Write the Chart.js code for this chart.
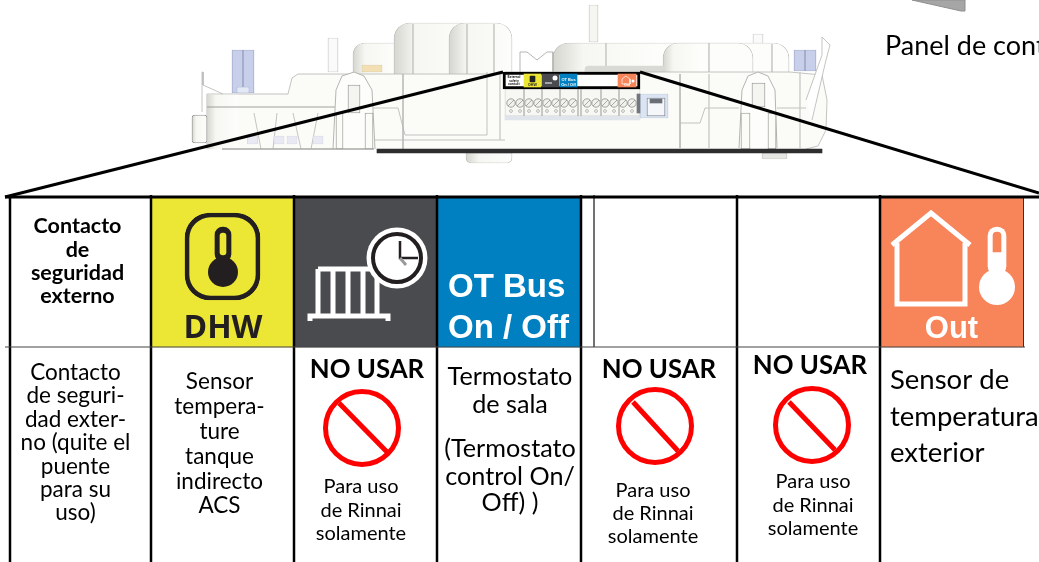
<!DOCTYPE html>
<html lang="es">
<head>
<meta charset="utf-8">
<title>Panel de control</title>
<style>
  html, body { margin: 0; padding: 0; background: #fff; overflow: hidden; }
  #wrap { width: 1039px; height: 562px; }
  canvas { display: block; }
</style>
<script src="https://cdn.jsdelivr.net/npm/chart.js@4/dist/chart.umd.min.js"></script>
</head>
<body>
<div id="wrap"><canvas id="chart" width="1039" height="562"></canvas></div>
<script>
// ── Table values ─────────────────────────────────────────────────
const columnRules = [10, 151, 294, 437, 581, 737, 880];
const innerRule = [594];
const ruleTop = 195;
const headerTop = 197;
const headerBottom = 347;
const tableBottom = 562;

const cellCentres = [222.5, 365.5, 509, 952];
const cellSpan = [198, 347];

const contactHeader = ['Contacto', 'de', 'seguridad', 'externo'];
const contactHeaderY = [233, 257, 280, 303];
const contactBody = ['Contacto', 'de seguri-', 'dad exter-', 'no (quite el', 'puente', 'para su', 'uso)'];
const contactBodyY = [380, 403, 427, 450, 474, 497, 520];
const sensorBody = ['Sensor', 'tempera-', 'ture', 'tanque', 'indirecto', 'ACS'];
const sensorBodyY = [389, 414, 439, 464, 489, 513];
const thermostatBody = ['Termostato', 'de sala', '(Termostato', 'control On/', 'Off) )'];
const thermostatBodyY = [385, 413, 457, 485, 511];
const outsideBody = ['Sensor de', 'temperatura', 'exterior'];
const outsideBodyY = [389, 426, 462];
const panelCaption = 'Panel de cont';

const doNotUse = 'NO USAR';
const rinnaiNote = ['Para uso', 'de Rinnai', 'solamente'];
const noUseTitleX = [367, 659, 810];
const noUseTitleY = [378, 378, 374];
const noUseCircleX = [362, 655, 812];
const noUseCircleY = [428, 426, 425];
const noUseNoteX = [361, 653, 813];
const noUseNoteY = [[493, 517, 540], [497, 520, 543], [488, 512, 535]];
const slashFrom = [[339, 403], [633, 402], [789, 402]];
const slashTo = [[387, 452], [678, 451], [835, 450]];

// ── Icons ────────────────────────────────────────────────────────
const radiatorBars = [318, 333, 348, 363, 377];
const radiatorTop = [[318, 269], [377, 269]];
const radiatorBase = [[310, 321], [310, 316], [388, 316], [388, 321]];
const clockCentre = [397, 258];
const clockHands = [[400, 241], [400, 258], [418, 258]];
const clockTail = [[400, 258], [406, 265]];
const houseOutline = [[892, 245], [931, 213], [970, 245]];
const houseWalls = [[897, 243], [897, 304], [965, 304], [965, 243]];

// ── Burner board drawing ─────────────────────────────────────────
const wedgeLeft = [[5, 197], [503, 72]];
const wedgeRight = [[640, 72], [1039, 193]];
const bodyOutline = [[207, 149], [207, 94], [288, 94], [292, 78], [298, 74], [336, 74], [370, 74], [505, 74], [505, 72], [554, 72], [790, 72], [822, 75], [827, 100], [826, 130], [818, 146], [806, 149]];
const bodyMidLine = [[207, 107], [335, 107]];
const bodyTopLine = [[375, 140], [505, 140]];
const leftSpike = [[202, 112], [202, 72], [203, 72], [203, 85], [223, 94]];
const rightSpike = [[806, 100], [822, 55], [822, 37], [830, 45], [826, 60], [812, 120]];
const leftLegs = [[[254, 113], [261, 149]], [[277, 113], [273, 149]], [[293, 113], [301, 149]], [[318, 113], [311, 149]]];
const leftWindow = [[373, 108], [398, 108], [405, 135], [487, 135], [487, 72]];
const rightWindow = [[680, 74], [680, 148]];
const rightLedge = [[680, 123], [700, 123], [705, 108], [739, 108]];
const rightEnd = [[777, 108], [806, 108]];
const blockRule = [[403, 74], [403, 149]];
const clipWhite = [[520, 72], [520, 52], [527, 52], [537, 60], [547, 52], [553, 52], [553, 72]];
const clipArchLeft = [[333, 149], [336, 90], [342, 76], [354, 72], [364, 76], [372, 90], [375, 149]];
const clipArchRight = [[739, 148], [742, 90], [748, 76], [758, 72], [768, 76], [775, 90], [777, 148]];
const screwX = [511, 520, 529, 538, 547, 556, 564, 573, 587, 596, 605, 614, 623, 632];
const screwRule = [524, 542, 560, 578, 581, 601, 619];
const padsX = [252.5, 279, 292, 318];
const bumpRules = [[413, 24, 74], [467, 24, 74], [494, 24, 74], [606, 43, 66], [709, 43, 72], [772, 44, 72]];
const frontRules = [[709, 74, 148], [500, 74, 140], [800, 72, 148]];

// label strip on the board
const footSpans = [[466, 512], [762, 787]];

// ── Chart ────────────────────────────────────────────────────────
const xy = pts => pts.map(p => ({ x: p[0], y: p[1] }));
const ctx = document.getElementById('chart').getContext('2d');

function path(pts, color, width, fillColor) {
  return {
    type: 'line',
    data: xy(pts),
    borderColor: color,
    borderWidth: width,
    pointRadius: 0,
    tension: 0,
    borderCapStyle: 'butt',
    fill: fillColor ? 'shape' : false,
    backgroundColor: fillColor || 'transparent',
  };
}

function block(x0, x1, y0, y1, fillColor, lineColor, lineWidth, radius) {
  return {
    type: 'bar',
    data: [{ x: (x0 + x1) / 2, y: [y0, y1] }],
    barThickness: x1 - x0,
    grouped: false,
    backgroundColor: fillColor,
    borderColor: lineColor || 'transparent',
    borderWidth: lineWidth || 0,
    borderRadius: radius || 0,
    borderSkipped: false,
  };
}

function dot(x, y, r, fillColor, lineColor, lineWidth) {
  return {
    type: 'scatter',
    data: [{ x, y }],
    pointStyle: 'circle',
    pointRadius: r,
    pointBackgroundColor: fillColor,
    pointBorderColor: lineColor || 'transparent',
    pointBorderWidth: lineWidth || 0,
    showLine: false,
  };
}

function shade(x0, x1) {
  const g = ctx.createLinearGradient(x0, 0, x1, 0);
  g.addColorStop(0, '#d6d6d0');
  g.addColorStop(0.28, '#f6f6f2');
  g.addColorStop(1, '#fdfdfb');
  return g;
}

const EDGE = '#b5b5b2';
const layers = [];

// bumps, posts and tanks behind the body
layers.push(block(589, 598, 5, 42, '#f5f5f2', EDGE, 0.7, 1));
layers.push(block(328, 338, 38, 72, '#fafafa', EDGE, 0.7));
layers.push(block(753, 763, 34, 44, '#fafafa', EDGE, 0.7));
layers.push(block(353, 395, 43, 76, shade(353, 395), EDGE, 0.7, { topLeft: 12, topRight: 0 }));
layers.push(block(394, 470, 23, 76, shade(394, 470), EDGE, 0.7, { topLeft: 16, topRight: 10 }));
layers.push(block(449, 512, 23, 76, shade(449, 512), EDGE, 0.7, { topLeft: 16, topRight: 16 }));
layers.push(block(553, 789, 43, 74, shade(553, 660), EDGE, 0.7, { topLeft: 18, topRight: 16 }));
layers.push(block(663, 753, 43, 74, shade(663, 700), EDGE, 0.7, { topLeft: 18, topRight: 16 }));
bumpRules.forEach(r => layers.push(path([[r[0], r[1]], [r[0], r[2]]], '#c4c4c1', 0.7)));
layers.push(block(362, 382, 65, 72, '#f2dfb4', '#c9b98f', 0.5));
layers.push(block(232, 254, 50, 93, '#c8cfea', '#8f97b8', 0.7));
layers.push(path([[243, 50], [243, 87]], '#9aa2c2', 0.7));
layers.push(block(237, 249, 87, 93, '#e4e9f6', '#8f97b8', 0.5));
layers.push(block(794, 816, 50, 71, '#c8cfea', '#8f97b8', 0.7));
layers.push(path([[805, 50], [805, 71]], '#9aa2c2', 0.7));
layers.push(path(clipWhite, EDGE, 1, '#ffffff'));
layers.push(block(585, 664, 66, 74, '#d9d9d5', null, 0, { topLeft: 8 }));

// body of the board
layers.push(path(bodyOutline, EDGE, 0.8, '#fbfbf8'));
layers.push(block(207, 238, 95, 149, shade(207, 238)));
layers.push(path(bodyMidLine, '#8a8a88', 0.8));
layers.push(path(bodyTopLine, EDGE, 0.8));
layers.push(path(leftSpike, EDGE, 0.8));
layers.push(path(rightSpike, EDGE, 0.8, '#ffffff'));
layers.push(path(leftWindow, EDGE, 0.8));
layers.push(path(rightWindow, EDGE, 0.8));
layers.push(path(rightLedge, EDGE, 0.8));
layers.push(path(rightEnd, EDGE, 0.8));
layers.push(path(blockRule, EDGE, 0.7));
frontRules.forEach(r => layers.push(path([[r[0], r[1]], [r[0], r[2]]], '#cdcdca', 0.7)));
leftLegs.forEach(leg => layers.push(path(leg, EDGE, 0.8)));
padsX.forEach(x => layers.push(block(x - 5, x + 5, 136, 144, '#e9e9f4', '#c8c8d4', 0.5)));
layers.push(block(192, 207, 115, 143, shade(192, 207), '#8a8a88', 0.8, 3));
layers.push(path(clipArchLeft, EDGE, 1, '#fdfdfb'));
layers.push(path(clipArchRight, EDGE, 1, '#fdfdfb'));
layers.push(block(348, 360, 85, 113, '#f4f4f1', '#8a8a88', 0.8));
layers.push(block(752, 765, 83, 107, '#f4f4f1', '#8a8a88', 0.8));
[[336, 343], [365, 373], [741, 750], [768, 776]].forEach(s => layers.push(block(s[0], s[1], 113, 149, '#fbfbf8', '#8a8a88', 0.8)));

// terminals and jack
layers.push(block(505, 640, 89, 116, '#f7f7f4', EDGE, 0.6));
layers.push(block(505, 640, 116, 120, '#dfe5ea'));
layers.push(block(640, 668, 94, 118, '#dbe4f2', '#b4bfd2', 0.7));
layers.push(block(647, 665, 98, 116, '#f4f6f9', '#70757d', 0.8));
layers.push(block(650, 662, 99, 103, '#6a6f77'));
layers.push(block(637, 640, 94, 113, '#72777e'));
screwX.forEach(x => {
  layers.push(dot(x, 103, 4.2, '#f1f1ee', '#8a8a88', 0.8));
  layers.push(path([[x - 3, 106], [x + 3, 100]], '#8a8a88', 0.7));
  layers.push(dot(x, 111, 1.4, '#ffffff', '#8a8a88', 0.6));
});
screwRule.forEach(x => layers.push(path([[x, 89], [x, 116]], EDGE, 0.7)));

// label strip and black frame
layers.push(block(503, 640, 72, 89, '#ffffff', '#000000', 3));
layers.push(block(524, 541, 74, 87, '#ece635'));
layers.push(block(542, 559, 74, 87, '#4a4b4f'));
layers.push(block(560, 577, 74, 87, '#0080c0'));
layers.push(block(618, 636, 74, 87, '#f8845a'));
layers.push(block(530, 535, 76, 82, '#222222', null, 0, 1));
layers.push(path([[545, 83], [552, 83]], '#ffffff', 1));
layers.push(dot(555, 78, 2.5, '#ffffff'));
layers.push(path([[622, 84], [622, 79], [626, 76], [630, 79], [630, 84], [622, 84]], '#ffffff', 0.7));
layers.push(dot(633, 81, 1.5, '#ffffff'));

// feet and black base
layers.push(block(footSpans[0][0], footSpans[0][1], 153, 163, shade(466, 512), EDGE, 0.7, { bottomLeft: 10, bottomRight: 10 }));
layers.push(block(footSpans[1][0], footSpans[1][1], 153, 159, '#e6e6e3', EDGE, 0.7, 2));
layers.push(block(377, 822, 149, 153, '#2e2e2e'));
layers.push(path([[222, 149], [374, 149]], '#a9a9a6', 1.5));

// top right panel corner
layers.push(path([[912, 0], [961, 11], [965, 11], [965, 0], [912, 0]], '#8f8f8f', 1, '#a6a6a6'));

// wedge
layers.push(path(wedgeLeft, '#000000', 3));
layers.push(path(wedgeRight, '#000000', 3));

// coloured header cells
const cellColours = ['#ece635', '#4a4b4f', '#0080c0', '#f8845a'];
cellCentres.forEach((c, i) => layers.push(block(c - 71, c + 71, cellSpan[0], cellSpan[1], cellColours[i])));

// DHW icon
layers.push(block(185, 260, 213, 300, 'transparent', '#231f20', 4, 25));
layers.push(block(215, 231, 227, 262, '#231f20', null, 0, 8));
layers.push(dot(223, 272, 15, '#231f20'));
layers.push(block(220, 226, 233, 255, '#ece635', null, 0, 3));

// radiator and clock
radiatorBars.forEach(x => layers.push(path([[x, 269], [x, 316]], '#ffffff', 5)));
layers.push(path(radiatorTop, '#ffffff', 5));
layers.push(path(radiatorBase, '#ffffff', 5));
layers.push(dot(clockCentre[0], clockCentre[1], 30.5, '#ffffff'));
layers.push(dot(clockCentre[0], clockCentre[1], 24, '#ffffff', '#231f20', 4));
layers.push(path(clockHands, '#231f20', 2.5));
layers.push(path(clockTail, '#9a9a9a', 3));

// house and thermometer
layers.push(path(houseOutline, '#ffffff', 5));
layers.push(path(houseWalls, '#ffffff', 5));
layers.push(block(988, 1006, 227, 275, '#ffffff', null, 0, 9));
layers.push(dot(997, 287, 18, '#ffffff'));
layers.push(block(993, 1001, 232, 252, '#f8845a', null, 0, { topLeft: 4, topRight: 4 }));

// table rules
columnRules.forEach(x => layers.push(path([[x, ruleTop], [x, tableBottom]], '#000000', 2.5)));
layers.push(path([[innerRule[0], ruleTop], [innerRule[0], headerBottom]], '#444444', 1.5));
layers.push(path([[1023.5, headerTop], [1023.5, headerBottom]], '#333333', 1));
layers.push(path([[5, headerTop], [1039, headerTop]], '#000000', 3));
layers.push(path([[5, headerBottom], [1025, headerBottom]], '#444444', 1.2));

// no-use signs
noUseCircleX.forEach((x, i) => {
  layers.push(dot(x, noUseCircleY[i], 36.5, 'transparent', '#ff0000', 5));
  layers.push(path([slashFrom[i], slashTo[i]], '#ff0000', 5));
});

// ── Text ─────────────────────────────────────────────────────────
const BODY = 'Lato, sans-serif';
const textBlocks = [
  { lines: contactHeader, ys: contactHeaderY, x: 77.5, font: `bold 21.5px ${BODY}` },
  { lines: contactBody, ys: contactBodyY, x: 75.5, font: `22.5px ${BODY}` },
  { lines: sensorBody, ys: sensorBodyY, x: 219.5, font: `22.5px ${BODY}` },
  { lines: thermostatBody, ys: thermostatBodyY, x: 510, font: `25.2px ${BODY}` },
  { lines: outsideBody, ys: outsideBodyY, x: 890, font: `27.5px ${BODY}`, align: 'left' },
  { lines: [panelCaption], ys: [55], x: 885, font: `27px ${BODY}`, align: 'left' },
  { lines: ['DHW'], ys: [338], x: 223, font: 'bold 32px "Open Sans", sans-serif', color: '#231f20' },
  { lines: ['OT Bus', 'On / Off'], ys: [297, 338], x: 448, font: 'bold 33px "Liberation Sans", sans-serif', color: '#ffffff', align: 'left' },
  { lines: ['Out'], ys: [338], x: 951.5, font: 'bold 31px "Liberation Sans", sans-serif', color: '#ffffff' },
  { lines: ['External', 'safety', 'contact'], ys: [78, 81.5, 85], x: 514, font: `bold 3.5px ${BODY}` },
  { lines: ['DHW'], ys: [86], x: 532.5, font: 'bold 3.5px "Open Sans", sans-serif', color: '#231f20' },
  { lines: ['OT Bus', 'On / Off'], ys: [80.5, 85.5], x: 568.5, font: 'bold 4px "Liberation Sans", sans-serif', color: '#ffffff' },
  { lines: ['Out'], ys: [86], x: 627, font: 'bold 3.5px "Liberation Sans", sans-serif', color: '#ffffff' },
];
noUseTitleX.forEach((x, i) => {
  textBlocks.push({ lines: [doNotUse], ys: [noUseTitleY[i]], x, font: `bold 25.8px ${BODY}` });
  textBlocks.push({ lines: rinnaiNote, ys: noUseNoteY[i], x: noUseNoteX[i], font: `20px ${BODY}` });
});

const textPlugin = {
  id: 'cellText',
  afterDatasetsDraw(chart) {
    const { ctx: c, scales: { x, y } } = chart;
    c.save();
    textBlocks.forEach(b => {
      c.font = b.font;
      c.fillStyle = b.color || '#000000';
      c.textAlign = b.align || 'center';
      c.textBaseline = 'alphabetic';
      b.lines.forEach((line, i) => {
        c.fillText(line, x.getPixelForValue(b.x), y.getPixelForValue(b.ys[i]));
      });
    });
    c.restore();
  },
};

// first dataset paints last, so the painter's order above is flipped here
new Chart(ctx, {
  type: 'scatter',
  data: { datasets: layers.reverse() },
  options: {
    responsive: false,
    animation: false,
    events: [],
    layout: { padding: 0, autoPadding: false },
    plugins: { legend: { display: false }, tooltip: { enabled: false } },
    scales: {
      x: { type: 'linear', min: 0, max: 1039, display: false, offset: false },
      y: { type: 'linear', min: 0, max: 562, reverse: true, display: false, offset: false },
    },
  },
  plugins: [textPlugin],
});
</script>
</body>
</html>
